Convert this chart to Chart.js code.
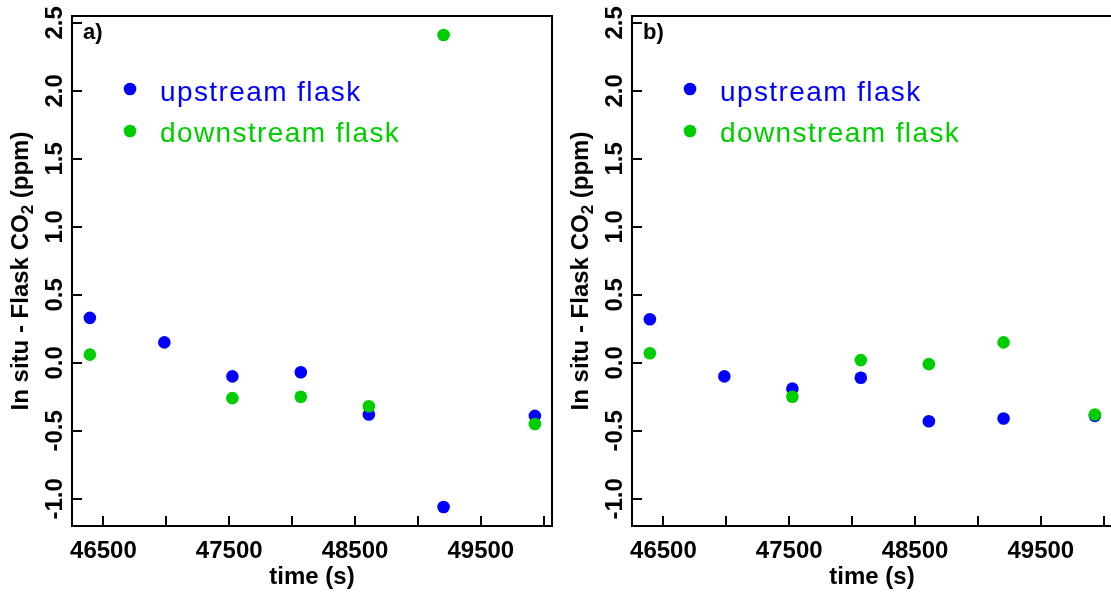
<!DOCTYPE html>
<html>
<head>
<meta charset="utf-8">
<script src="https://cdn.jsdelivr.net/npm/chart.js@4/dist/chart.umd.min.js"></script>
<style>
html, body { margin: 0; padding: 0; background: #fff; overflow: hidden; }
#wrap { position: relative; width: 1111px; height: 592px; overflow: hidden; }
.panel { position: absolute; top: 0; width: 560px; height: 592px; }
#panel_a { left: 0; }
#panel_b { left: 560px; }
</style>
</head>
<body>
<div id="wrap">
    <div class="panel" id="panel_a"><canvas id="scatter_a" width="560" height="592"></canvas></div>
    <div class="panel" id="panel_b"><canvas id="scatter_b" width="560" height="592"></canvas></div>
</div>
<script>
/***
data
****/
const time_s        = [46392, 46984, 47525, 48069, 48610, 49204, 49930];
/* a) */
const upstream_a    = [0.33, 0.15, -0.10, -0.07, -0.38, -1.06, -0.39];
const downstream_a  = [0.06, null, -0.26, -0.25, -0.32, 2.41, -0.45];
/* b) */
const upstream_b    = [0.32, -0.10, -0.19, -0.11, -0.43, -0.41, -0.39];
const downstream_b  = [0.07, null, -0.25, 0.02, -0.01, 0.15, -0.38];
/* axes */
const xRange        = [46250, 50066];
const yRange        = [-1.2, 2.55];
const xTickValues   = [46500, 47000, 47500, 48000, 48500, 49000, 49500, 50000];
const xTickLabels   = ['46500', '', '47500', '', '48500', '', '49500', ''];
const yTickValues   = [-1.0, -0.5, 0.0, 0.5, 1.0, 1.5, 2.0, 2.5];
const yTickLabels   = ['-1.0', '-0.5', '0.0', '0.5', '1.0', '1.5', '2.0', '2.5'];
const seriesNames   = ['upstream flask', 'downstream flask'];


/**************
app
***************/
const app = {};
app.setting = {};
app.setting.font    = '"Liberation Sans", Arial, Helvetica, sans-serif';
app.setting.blue    = '#0000ff';
app.setting.green   = '#00cd00';
app.func = {};

Chart.defaults.font.family = app.setting.font;


/* builds the x/y point list for one series, skipping missing flasks */
app.func.toPoints = (values)=>{
    let points = [];
    for(let i = 0; i < time_s.length; i++){
        if( values[i] !== null){
            points.push({x: time_s[i], y: values[i]});
        };
    };
    return points;
};


/* R-ish frame: box, inward ticks, rotated y labels, legend, panel letter */
app.func.rFrame = {
    id: 'rFrame',
    afterDraw(chart, args, opts){
        let ctx  = chart.ctx;
        let area = chart.chartArea;
        let xs   = chart.scales.x;
        let ys   = chart.scales.y;
        let bold = `bold 24px ${app.setting.font}`;
        ctx.save();
        /* box */
        ctx.strokeStyle = '#000';
        ctx.lineWidth = 2;
        ctx.strokeRect(area.left, area.top, area.right - area.left, area.bottom - area.top);
        /* ticks pointing in */
        ctx.beginPath();
        xs.ticks.forEach((t)=>{
            let px = Math.round(xs.getPixelForValue(t.value));
            ctx.moveTo(px, area.bottom);
            ctx.lineTo(px, area.bottom - 10);
        });
        ys.ticks.forEach((t)=>{
            let py = Math.round(ys.getPixelForValue(t.value));
            ctx.moveTo(area.left, py);
            ctx.lineTo(area.left + 10, py);
        });
        ctx.stroke();
        /* tick labels */
        ctx.fillStyle = '#000';
        ctx.font = bold;
        ctx.textAlign = 'center';
        ctx.textBaseline = 'alphabetic';
        xs.ticks.forEach((t, i)=>{
            if( xTickLabels[i] ){
                ctx.fillText(xTickLabels[i], xs.getPixelForValue(t.value), area.bottom + 32);
            };
        });
        ys.ticks.forEach((t, i)=>{
            ctx.save();
            ctx.translate(area.left - 10, ys.getPixelForValue(t.value));
            ctx.rotate(-Math.PI / 2);
            ctx.fillText(yTickLabels[i], 0, 0);
            ctx.restore();
        });
        /* axis titles */
        ctx.fillText('time (s)', (area.left + area.right) / 2, area.bottom + 58);
        ctx.save();
        ctx.translate(area.left - 44, (area.top + area.bottom) / 2);
        ctx.rotate(-Math.PI / 2);
        let part1 = 'In situ - Flask CO';
        let part2 = '2';
        let part3 = ' (ppm)';
        let subFont = `bold 17px ${app.setting.font}`;
        ctx.font = bold;
        let w1 = ctx.measureText(part1).width;
        let w3 = ctx.measureText(part3).width;
        ctx.font = subFont;
        let w2 = ctx.measureText(part2).width;
        let x0 = -(w1 + w2 + w3) / 2;
        ctx.textAlign = 'left';
        ctx.font = bold;
        ctx.fillText(part1, x0, 0);
        ctx.font = subFont;
        ctx.fillText(part2, x0 + w1, 5);
        ctx.font = bold;
        ctx.fillText(part3, x0 + w1 + w2, 0);
        ctx.restore();
        /* panel letter */
        ctx.textAlign = 'left';
        ctx.font = `bold 22px ${app.setting.font}`;
        ctx.fillText(opts.letter, area.left + 11, area.top + 23);
        /* legend */
        let colors = [app.setting.blue, app.setting.green];
        let dotY   = [89, 131];
        let textY  = [101, 142];
        ctx.font = `28px ${app.setting.font}`;
        ctx.letterSpacing = '1.4px';
        for(let i = 0; i < seriesNames.length; i++){
            ctx.fillStyle = colors[i];
            ctx.beginPath();
            ctx.arc(area.left + 58, dotY[i], 6.3, 0, Math.PI * 2);
            ctx.fill();
            ctx.fillText(seriesNames[i], area.left + 88, textY[i]);
        };
        ctx.restore();
    }
};


app.func.makePanel = (canvasId, letter, upstream, downstream)=>{
    let canvas = document.querySelector(canvasId);
    let ctx    = canvas.getContext('2d');
    return new Chart(ctx, {
        type: 'scatter',
        data: {
            datasets: [
                {
                    label: seriesNames[0],
                    data: app.func.toPoints(upstream),
                    backgroundColor: app.setting.blue,
                    pointRadius: 6.3,
                    pointHoverRadius: 6.3,
                    borderWidth: 0,
                    order: 1
                },
                {
                    label: seriesNames[1],
                    data: app.func.toPoints(downstream),
                    backgroundColor: app.setting.green,
                    pointRadius: 6.3,
                    pointHoverRadius: 6.3,
                    borderWidth: 0,
                    order: 0
                }
            ]
        },
        options: {
            responsive: false,
            animation: false,
            devicePixelRatio: 1,
            layout: { padding: { left: 72, right: 8, top: 16, bottom: 66 } },
            plugins: {
                legend: { display: false },
                tooltip: { enabled: false },
                rFrame: { letter: letter }
            },
            scales: {
                x: {
                    type: 'linear',
                    display: false,
                    min: xRange[0],
                    max: xRange[1],
                    afterBuildTicks: (scale)=>{ scale.ticks = xTickValues.map((v)=>({value: v})); }
                },
                y: {
                    type: 'linear',
                    display: false,
                    min: yRange[0],
                    max: yRange[1],
                    afterBuildTicks: (scale)=>{ scale.ticks = yTickValues.map((v)=>({value: v})); }
                }
            }
        },
        plugins: [app.func.rFrame]
    });
};


/*************
INITIALIZATION
**************/
app.func.makePanel('#scatter_a', 'a)', upstream_a, downstream_a);
app.func.makePanel('#scatter_b', 'b)', upstream_b, downstream_b);
</script>
</body>
</html>
